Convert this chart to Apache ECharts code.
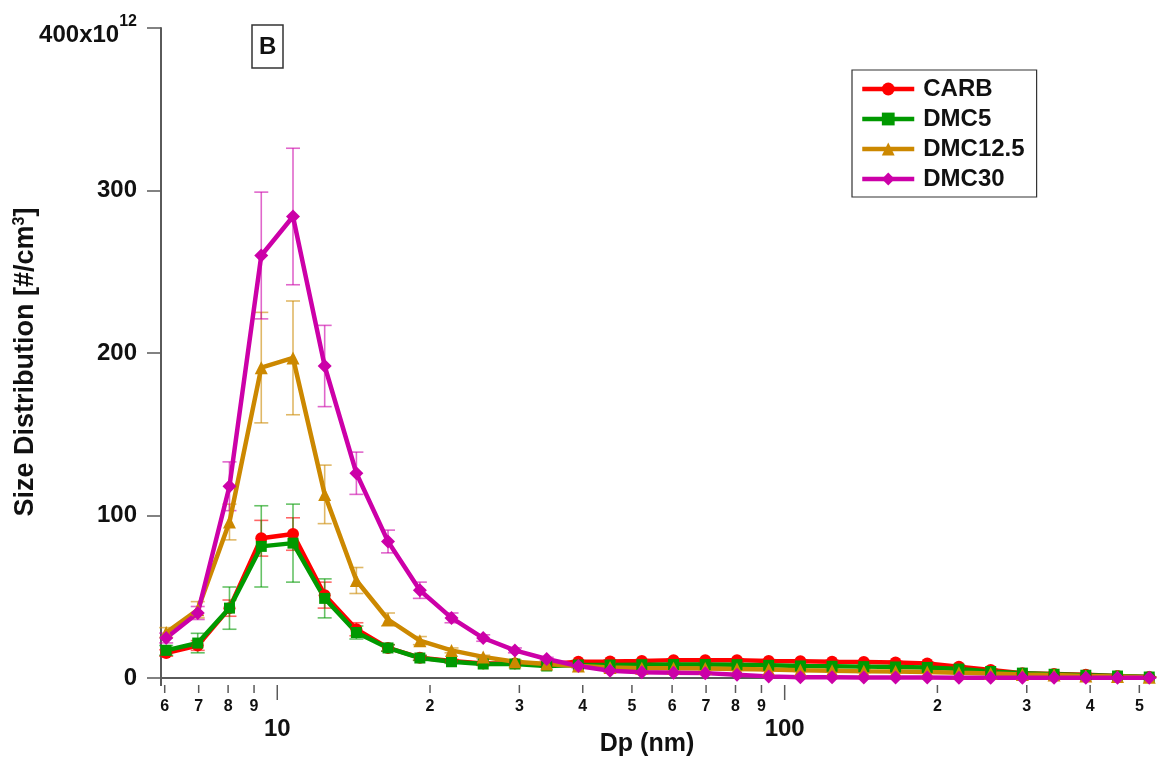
<!DOCTYPE html>
<html lang="en">
<head>
    <meta charset="UTF-8">
    <title>Size Distribution B</title>
    <script src="https://cdn.jsdelivr.net/npm/echarts@6/dist/echarts.min.js"></script>
    <style>
        html, body { margin: 0; padding: 0; background: #fff; }
        #main { width: 1159px; height: 769px; }
    </style>
</head>
<body>
<div id="main"></div>
<script>
    // particle diameter (nm), 16 channels per decade
    let dp = [6.04, 6.97, 8.05, 9.30, 10.74, 12.40, 14.32, 16.53, 19.10, 22.05, 25.46, 29.40,
        33.96, 39.21, 45.28, 52.29, 60.40, 69.74, 80.54, 93.0, 107.4, 124.0, 143.2, 165.4,
        191.0, 220.5, 254.7, 294.1, 339.6, 392.2, 452.9, 523.0];

    // size distribution, x10^12 #/cm3
    let carb = [15.4, 20, 43, 86, 88.6, 51, 30, 18.5, 12.5, 10.5, 9, 9, 8.5, 10, 10.2, 10.5,
        11, 11, 11, 10.5, 10.3, 10, 9.8, 9.5, 9, 7, 5, 3, 2.5, 2, 1.2, 0.6];
    let dmc5 = [17, 21.5, 43, 81, 83, 49, 28, 18.5, 12.3, 10, 8.6, 8.6, 7.4, 8, 8, 8.2,
        8.3, 8.3, 8.2, 7.8, 7.4, 7.2, 7, 6.8, 6.5, 5.5, 4, 3, 2.3, 1.7, 1.2, 0.6];
    let dmc125 = [28, 42, 96, 191, 197, 113, 60, 36, 23, 17, 13, 10, 8.6, 7.4, 6.5, 6,
        6, 5.8, 5.5, 5.2, 4.8, 4.5, 4.2, 4, 3.7, 3.2, 2.8, 2.2, 1.8, 1.3, 1, 0.5];
    let dmc30 = [24.6, 40, 118, 260, 284, 192, 126, 84, 54, 37, 24.6, 17, 11.7, 7.4, 4.5, 3.5,
        3.3, 3.0, 2.0, 1.0, 0.5, 0.4, 0.3, 0.3, 0.3, 0.2, 0.2, 0.2, 0.2, 0.1, 0.1, 0.1];

    // error bar half-heights
    let carbErr = [2, 3, 5, 11, 10, 8, 4, 2, 1.5, 1, 0.8, 0.8, 0.8, 0.8, 0.8, 0.8,
        0.8, 0.8, 0.8, 0.8, 0.8, 0.8, 0.8, 0.8, 0.8, 0.6, 0.5, 0.4, 0.3, 0.3, 0.2, 0.2];
    let dmc5Err = [3, 6, 13, 25, 24, 12, 4, 2, 1.5, 1, 0.8, 0.8, 0.8, 0.8, 0.8, 0.8,
        0.8, 0.8, 0.8, 0.8, 0.8, 0.8, 0.8, 0.8, 0.8, 0.6, 0.5, 0.4, 0.3, 0.3, 0.2, 0.2];
    let dmc125Err = [3, 5, 11, 34, 35, 18, 8, 4, 2.5, 1.5, 1, 1, 1, 1, 0.8, 0.8,
        0.8, 0.8, 0.8, 0.8, 0.8, 0.8, 0.8, 0.8, 0.6, 0.5, 0.4, 0.4, 0.3, 0.3, 0.2, 0.2];
    let dmc30Err = [3, 4, 15, 39, 42, 25, 13, 7, 5, 3, 2, 1.5, 1, 1, 0.8, 0.8,
        0.6, 0.5, 0.5, 0.4, 0.3, 0.3, 0.2, 0.2, 0.2, 0.2, 0.2, 0.2, 0.1, 0.1, 0.1, 0.1];

    // log axis ticks
    let tickVals = [6, 7, 8, 9, 10, 20, 30, 40, 50, 60, 70, 80, 90, 100, 200, 300, 400, 500];
    let tickLabels = ['6', '7', '8', '9', '10', '2', '3', '4', '5', '6', '7', '8', '9', '100', '2', '3', '4', '5'];

    let font = '"Liberation Sans", Arial, Helvetica, sans-serif';
    let axisColor = '#5a5a5a';
    let xAxisDrop = 7;

    let myChart = echarts.init(document.getElementById('main'));

    function errItem(params, api) {
        let x = api.value(0), y = api.value(1), e = api.value(2);
        let top = api.coord([x, y + e]);
        let bot = api.coord([x, y - e]);
        let hw = 7;
        let style = {stroke: api.visual('color'), lineWidth: 1.6, opacity: 0.6};
        return {
            type: 'group',
            children: [
                {type: 'line', shape: {x1: top[0], y1: top[1], x2: bot[0], y2: bot[1]}, style: style},
                {type: 'line', shape: {x1: top[0] - hw, y1: top[1], x2: top[0] + hw, y2: top[1]}, style: style},
                {type: 'line', shape: {x1: bot[0] - hw, y1: bot[1], x2: bot[0] + hw, y2: bot[1]}, style: style}
            ]
        };
    }

    function tickItem(params, api) {
        let v = api.value(0);
        let p = api.coord([v, 0]);
        let y0 = p[1] + xAxisDrop;
        let major = v === 10 || v === 100;
        let len = major ? 15 : 8;
        return {
            type: 'group',
            children: [
                {type: 'line', shape: {x1: p[0], y1: y0, x2: p[0], y2: y0 + len},
                    style: {stroke: axisColor, lineWidth: 1.5}},
                {type: 'text', x: p[0], y: major ? y0 + 44 : y0 + 22,
                    style: {text: tickLabels[params.dataIndex], fontSize: major ? 24 : 16, fontWeight: 'bold',
                        fontFamily: font, fill: '#111', align: 'center', verticalAlign: 'middle'}}
            ]
        };
    }

    function pairs(vals, errs) {
        return dp.map(function (x, i) { return [x, vals[i], errs[i]]; });
    }

    let names = ['CARB', 'DMC5', 'DMC12.5', 'DMC30'];
    let colors = ['#ff0000', '#009900', '#cc8800', '#cc00a8'];
    let symbols = ['circle', 'rect', 'triangle', 'diamond'];
    let sizes = [12, 11, 13, 14];
    let vals = [carb, dmc5, dmc125, dmc30];
    let errs = [carbErr, dmc5Err, dmc125Err, dmc30Err];

    let series = [];
    for (let i = 0; i < 4; i++) {
        series.push({
            name: names[i] + ' err',
            type: 'custom',
            renderItem: errItem,
            data: pairs(vals[i], errs[i]),
            encode: {x: 0, y: 1},
            itemStyle: {color: colors[i]},
            silent: true,
            clip: false
        });
        series.push({
            name: names[i],
            type: 'line',
            data: dp.map(function (x, k) { return [x, vals[i][k]]; }),
            symbol: symbols[i],
            symbolSize: sizes[i],
            color: colors[i],
            lineStyle: {width: 4.5, color: colors[i]},
            itemStyle: {color: colors[i]},
            emphasis: {disabled: true},
            z: 3
        });
    }
    series.push({
        name: 'ticks',
        type: 'custom',
        renderItem: tickItem,
        data: tickVals.map(function (v) { return [v, 0]; }),
        encode: {x: 0, y: 1},
        silent: true,
        clip: false
    });

    let option = {
        backgroundColor: '#fff',
        animation: false,
        textStyle: {fontFamily: font},
        grid: {left: 161, right: 6, top: 28, bottom: 91, outerBoundsMode: 'none', containLabel: false},
        title: {
            text: 'B',
            left: 252,
            top: 25,
            padding: [10, 7, 9, 7],
            borderColor: '#333',
            borderWidth: 1.5,
            textStyle: {fontSize: 24, fontWeight: 'bold', color: '#111', fontFamily: font}
        },
        legend: {
            data: names,
            orient: 'vertical',
            left: 852,
            top: 70,
            padding: [7, 12, 6, 8],
            itemWidth: 52,
            itemHeight: 16,
            itemGap: 6,
            lineStyle: {width: 4.5},
            borderColor: '#333',
            borderWidth: 1.2,
            textStyle: {fontSize: 24, fontWeight: 'bold', color: '#111', fontFamily: font, padding: [0, 0, 0, 4]}
        },
        xAxis: {
            type: 'log',
            logBase: 10,
            min: 5.9,
            max: 532,
            offset: xAxisDrop,
            name: 'Dp (nm)',
            nameLocation: 'middle',
            nameGap: 47,
            nameMoveOverlap: false,
            nameTextStyle: {fontSize: 25, fontWeight: 'bold', color: '#111', fontFamily: font, padding: [0, 20, 0, 0]},
            axisLine: {lineStyle: {color: axisColor, width: 2}},
            axisTick: {show: false},
            axisLabel: {show: false},
            splitLine: {show: false},
            minorTick: {show: false}
        },
        yAxis: {
            type: 'value',
            min: 0,
            max: 400,
            interval: 100,
            name: 'Size Distribution [#/cm{s|3}]',
            nameLocation: 'middle',
            nameRotate: 90,
            nameGap: 121,
            nameMoveOverlap: false,
            nameTextStyle: {
                fontSize: 27, fontWeight: 'bold', color: '#111', fontFamily: font,
                padding: [0, 18, 0, 0],
                rich: {s: {fontSize: 16, fontWeight: 'bold', color: '#111', fontFamily: font, padding: [0, 0, 12, 0]}}
            },
            axisLine: {show: true, lineStyle: {color: axisColor, width: 2}},
            axisTick: {show: true, length: 14, lineStyle: {color: axisColor, width: 1.5}},
            axisLabel: {
                margin: 24,
                fontSize: 24,
                fontWeight: 'bold',
                color: '#111',
                fontFamily: font,
                formatter: function (v) {
                    return v === 400 ? '{a|400x10}{s|12}' : String(v);
                },
                rich: {
                    a: {fontSize: 24, fontWeight: 'bold', color: '#111', fontFamily: font, padding: [14, 0, 0, 0]},
                    s: {fontSize: 16, fontWeight: 'bold', color: '#111', fontFamily: font, padding: [0, 0, 12, 0]}
                }
            },
            splitLine: {show: false}
        },
        graphic: [{
            type: 'line',
            shape: {x1: 161, y1: 678, x2: 161, y2: 678 + xAxisDrop + 1},
            style: {stroke: axisColor, lineWidth: 2},
            silent: true
        }],
        series: series
    };
    myChart.setOption(option);
</script>
</body>
</html>
